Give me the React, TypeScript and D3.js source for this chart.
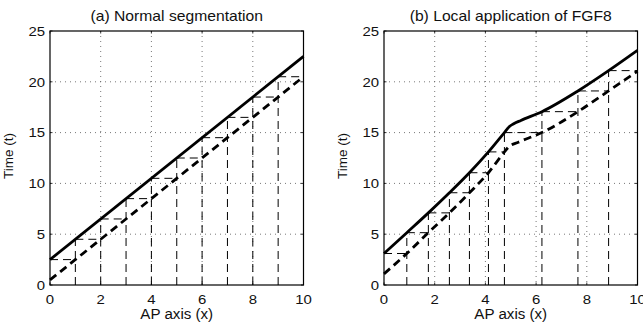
import React from "react";
import * as d3 from "d3";

// Panel (a): normal segmentation
const leftSomiteX = [0, 1, 2, 3, 4, 5, 6, 7, 8, 9];
const leftSomiteT = [2.5, 4.5, 6.5, 8.5, 10.5, 12.5, 14.5, 16.5, 18.5, 20.5];
const leftSolidX = [0, 10];
const leftSolidT = [2.5, 22.5];
const leftDashedX = [0, 10];
const leftDashedT = [0.5, 20.5];

// Panel (b): local application of FGF8
const rightSomiteX = [0, 0.9, 1.75, 2.58, 3.37, 4.12, 4.75, 6.23, 7.65, 8.86];
const rightSomiteT = [3.1, 5.15, 7.1, 9.08, 11.05, 13.1, 15.0, 17.06, 19.1, 21.1];
const rightSolidX = [0, 0.9, 1.75, 2.58, 3.37, 4.12, 4.75, 4.95, 5.1, 5.4, 6.23, 7.65, 8.86, 10];
const rightSolidT = [3.1, 5.15, 7.1, 9.08, 11.05, 13.1, 15.0, 15.6, 15.85, 16.2, 17.06, 19.1, 21.1, 23.1];
const rightDashedX = [0, 0.9, 1.75, 2.58, 3.37, 4.12, 4.75, 4.92, 5.3, 6.23, 7.65, 8.86, 10];
const rightDashedT = [1.1, 3.1, 5.15, 7.1, 9.08, 11.05, 13.1, 13.6, 14.05, 15.0, 17.06, 19.1, 21.05];

const xTicks = [0, 2, 4, 6, 8, 10];
const yTicks = [0, 5, 10, 15, 20, 25];
const titles = ["(a) Normal segmentation", "(b) Local application of FGF8"];
const xLabel = "AP axis (x)";
const yLabel = "Time (t)";

const FONT = "'Liberation Sans', Arial, Helvetica, sans-serif";

function SText({ x, y, size, sx, anchor, children }: { x: number; y: number; size: number; sx: number; anchor: string; children: any }) {
  return (
    <text
      transform={`translate(${x},${y}) scale(${sx},1)`}
      textAnchor={anchor}
      fontSize={size}
      fontFamily={FONT}
      fill="#111"
    >
      {children}
    </text>
  );
}

type PanelProps = {
  left: number;
  title: string;
  somX: number[];
  somT: number[];
  solX: number[];
  solT: number[];
  dasX: number[];
  dasT: number[];
};

function Panel({ left, title, somX, somT, solX, solT, dasX, dasT }: PanelProps) {
  const W = 253.5;
  const top = 31;
  const bottom = 285;
  const x = d3.scaleLinear().domain([0, 10]).range([left, left + W]);
  const y = d3.scaleLinear().domain([0, 25]).range([bottom, top]);
  const line = d3
    .line<[number, number]>()
    .x((d) => x(d[0]))
    .y((d) => y(d[1]))
    .curve(d3.curveMonotoneX);
  const solid = line(solX.map((v, i) => [v, solT[i]] as [number, number])) || "";
  const dashed = line(dasX.map((v, i) => [v, dasT[i]] as [number, number])) || "";

  return (
    <g>
      {/* grid */}
      {xTicks.slice(1, -1).map((t) => (
        <line key={"gx" + t} x1={x(t)} x2={x(t)} y1={top} y2={bottom} stroke="#555" strokeWidth={0.8} strokeDasharray="1,4" />
      ))}
      {yTicks.slice(1, -1).map((t) => (
        <line key={"gy" + t} x1={left} x2={left + W} y1={y(t)} y2={y(t)} stroke="#555" strokeWidth={0.8} strokeDasharray="1,4" />
      ))}
      {/* staircase */}
      {somX.map((sx, i) => {
        const nx = i < somX.length - 1 ? somX[i + 1] : 10;
        return (
          <g key={"s" + i}>
            {i > 0 && (
              <line x1={x(sx)} x2={x(sx)} y1={y(0)} y2={y(somT[i])} stroke="#000" strokeWidth={1} strokeDasharray="8,5" />
            )}
            <line x1={x(sx)} x2={x(nx)} y1={y(somT[i])} y2={y(somT[i])} stroke="#000" strokeWidth={1} strokeDasharray="8,5" />
          </g>
        );
      })}
      {/* curves */}
      <path d={dashed} fill="none" stroke="#000" strokeWidth={2.8} strokeDasharray="8,5" />
      <path d={solid} fill="none" stroke="#000" strokeWidth={2.8} />
      {/* box */}
      <rect x={left} y={top} width={W} height={bottom - top} fill="none" stroke="#000" strokeWidth={1.2} />
      {/* ticks */}
      {xTicks.map((t) => (
        <g key={"xt" + t}>
          <line x1={x(t)} x2={x(t)} y1={bottom} y2={bottom - 2.5} stroke="#000" strokeWidth={0.8} />
          <line x1={x(t)} x2={x(t)} y1={top} y2={top + 2.5} stroke="#000" strokeWidth={0.8} />
          <SText x={x(t)} y={bottom + 18.5} size={13} sx={1.15} anchor="middle">
            {t}
          </SText>
        </g>
      ))}
      {yTicks.map((t) => (
        <g key={"yt" + t}>
          <line x1={left} x2={left + 2.5} y1={y(t)} y2={y(t)} stroke="#000" strokeWidth={0.8} />
          <line x1={left + W} x2={left + W - 2.5} y1={y(t)} y2={y(t)} stroke="#000" strokeWidth={0.8} />
          <SText x={left - 5} y={y(t) + 4.8} size={13} sx={1.15} anchor="end">
            {t}
          </SText>
        </g>
      ))}
      <SText x={left + W / 2} y={318.5} size={14} sx={1.08} anchor="middle">
        {xLabel}
      </SText>
      <text
        transform={`translate(${left - 37},${(top + bottom) / 2 - 2}) rotate(-90)`}
        textAnchor="middle"
        fontSize={13.5}
        fontFamily={FONT}
        fill="#111"
      >
        {yLabel}
      </text>
      <SText x={left + W / 2} y={21} size={14} sx={1.12} anchor="middle">
        {title}
      </SText>
    </g>
  );
}

export default function App() {
  return (
    <svg
      width={643}
      height={327}
      style={{ position: "absolute", left: 0, top: 0, background: "#fff" }}
    >
      <rect x={0} y={0} width={643} height={327} fill="#fff" />
      <Panel left={50} title={titles[0]} somX={leftSomiteX} somT={leftSomiteT} solX={leftSolidX} solT={leftSolidT} dasX={leftDashedX} dasT={leftDashedT} />
      <Panel left={384} title={titles[1]} somX={rightSomiteX} somT={rightSomiteT} solX={rightSolidX} solT={rightSolidT} dasX={rightDashedX} dasT={rightDashedT} />
    </svg>
  );
}
